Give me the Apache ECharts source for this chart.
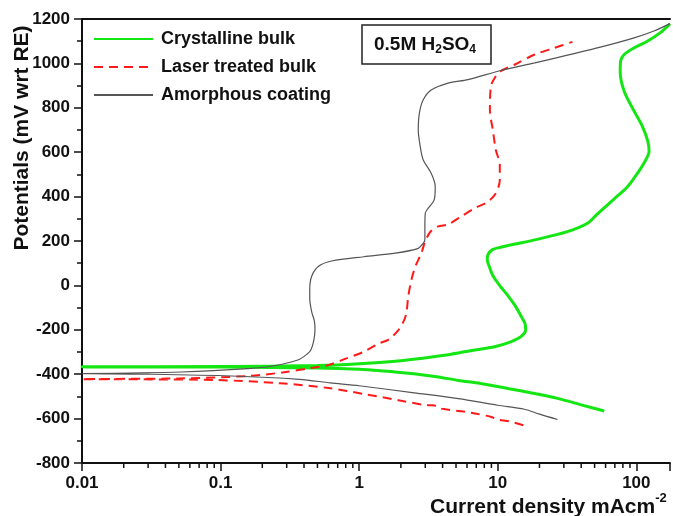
<!DOCTYPE html>
<html>
<head>
<meta charset="utf-8">
<script src="https://cdn.jsdelivr.net/npm/echarts@6/dist/echarts.min.js"></script>
<style>
  html, body { margin: 0; padding: 0; background: #fff; }
  #chart { width: 673px; height: 516px; }
</style>
</head>
<body>
<div id="chart"></div>
<script>
// current density (mA/cm2), potential (mV)
var crystCathodic = [[58.7,-566],[40,-538],[27,-509],[18,-486],[11.8,-464],[7.5,-442],[5.2,-428],[3.5,-410],[2.26,-396],[1.5,-386],[1.0,-378],[0.5,-372],[0.1,-368],[0.01,-367]];
var crystAnodic = [[0.01,-366],[0.1,-365],[0.5,-361],[1,-353],[2,-339],[4.4,-312],[6.5,-293],[9.5,-276],[12.4,-254],[14.7,-231],[15.9,-200],[15.7,-171],[14.5,-130],[13.3,-90],[11.8,-45],[10.5,-6],[9.3,40],[8.7,84],[8.4,115],[8.5,138],[9.1,160],[10.5,172],[13,185],[18.5,205],[31.8,242],[44.4,280],[52,320],[69.3,390],[85,440],[96.4,484],[112,545],[123.6,604],[121,650],[110,720],[96.4,785],[81.7,875],[76.5,960],[77,1010],[81.7,1040],[96.4,1070],[120,1100],[150,1140],[175,1178]];

var laserCathodic = [[15.3,-630],[12,-612],[10,-604],[8.9,-592],[7,-578],[5.8,-569],[5.2,-566],[4.2,-558],[3.8,-553],[3.6,-543],[3.3,-540],[2.9,-538],[1.92,-517],[1.1,-490],[0.6,-462],[0.27,-441],[0.09,-426],[0.01,-422]];
var laserAnodic = [[0.01,-422],[0.05,-419],[0.16,-408],[0.28,-392],[0.45,-372],[0.6,-359],[0.8,-330],[1.08,-299],[1.38,-262],[1.63,-244],[1.92,-201],[2.1,-160],[2.19,-126],[2.26,-51],[2.38,24],[2.54,84],[2.81,145],[3.0,200],[3.3,245],[3.72,266],[4.38,275],[5.43,310],[6.85,348],[8.49,377],[9.69,415],[10.35,475],[10.35,543],[9.69,610],[9.22,700],[8.78,790],[8.92,896],[9.53,935],[10.5,965],[13.3,995],[18.5,1040],[25.7,1070],[34.6,1097]];

var amorCathodic = [[27,-604],[20,-580],[15.6,-558],[10,-540],[5.2,-510],[2.5,-484],[1.0,-452],[0.62,-439],[0.37,-423],[0.12,-408],[0.03,-400],[0.01,-397]];
var amorAnodic = [[0.01,-396],[0.052,-390],[0.158,-375],[0.243,-362],[0.361,-336],[0.42,-310],[0.448,-291],[0.47,-250],[0.48,-200],[0.475,-160],[0.455,-120],[0.44,-60],[0.44,-18],[0.455,42],[0.512,87],[0.634,110],[1.08,129],[1.82,145],[2.67,167],[2.9,190],[2.98,205],[2.98,265],[3.0,325],[3.15,348],[3.48,385],[3.54,445],[3.31,505],[2.9,565],[2.76,625],[2.67,700],[2.72,776],[2.9,836],[3.31,880],[4.38,911],[6.1,927],[10.5,968],[18.5,1002],[31.8,1037],[55,1073],[96.4,1115],[134,1146],[175,1179]];

var seriesNames = ['Crystalline bulk', 'Laser treated bulk', 'Amorphous coating'];
var xTickLabels = ['0.01', '0.1', '1', '10', '100'];
var xMin = 0.01, xMax = 175;
var yMin = -800, yMax = 1200, yStep = 200;

var FONT = 'Liberation Sans, Arial, sans-serif';

// log minor ticks 2..9 per decade
var minorX = [];
[0.01, 0.1, 1, 10].forEach(function (d) {
  for (var k = 2; k <= 9; k++) minorX.push([+(d * k).toPrecision(3)]);
});

var chart = echarts.init(document.getElementById('chart'));

chart.setOption({
  animation: false,
  grid: { left: 82, right: 0, top: 19, bottom: 53 },
  legend: {
    data: seriesNames,
    orient: 'vertical',
    left: 93,
    top: 30,
    padding: 0,
    itemWidth: 59,
    itemHeight: 14,
    itemGap: 10,
    itemStyle: { opacity: 0 },
    textStyle: { fontFamily: FONT, fontWeight: 'bold', fontSize: 18, lineHeight: 18, color: '#111', padding: [0, 0, 0, 3] }
  },
  title: {
    text: '{a|0.5M H}{s|2}{a|SO}{s|4}',
    left: 362,
    top: 27,
    borderColor: '#222',
    borderWidth: 1.5,
    padding: [8, 15, 8, 12],
    textStyle: {
      rich: {
        a: { fontFamily: FONT, fontWeight: 'bold', fontSize: 19, lineHeight: 21, verticalAlign: 'top', color: '#111' },
        s: { fontFamily: FONT, fontWeight: 'bold', fontSize: 12, lineHeight: 14, padding: [11, 0, 0, 0], verticalAlign: 'bottom', color: '#111' }
      }
    }
  },
  graphic: [
    {
      type: 'text',
      x: 22, y: 138,
      rotation: Math.PI / 2,
      style: {
        text: 'Potentials (mV wrt RE)',
        font: 'bold 21px ' + FONT,
        fill: '#111',
        align: 'center',
        verticalAlign: 'middle'
      }
    },
    {
      type: 'text',
      x: 430, y: 492,
      style: {
        text: '{a|Current density mAcm}{b|-2}',
        fill: '#111',
        rich: {
          a: { fontFamily: FONT, fontWeight: 'bold', fontSize: 21, lineHeight: 26, verticalAlign: 'bottom' },
          b: { fontFamily: FONT, fontWeight: 'bold', fontSize: 13, lineHeight: 14, verticalAlign: 'top' }
        }
      }
    }
  ],
  xAxis: [
    {
      type: 'log',
      logBase: 10,
      min: xMin,
      max: xMax,
      position: 'bottom',
      axisLine: { onZero: false, lineStyle: { color: '#111', width: 2 } },
      axisTick: { length: 8, lineStyle: { color: '#111', width: 1.5 } },
      splitLine: { show: false },
      axisLabel: {
        margin: 12,
        fontFamily: FONT, fontWeight: 'bold', fontSize: 17, color: '#111',
        formatter: function (v) {
          var s = String(+(+v).toPrecision(3));
          return xTickLabels.indexOf(s) >= 0 ? s : '';
        }
      }
    },
    {
      type: 'log',
      logBase: 10,
      min: xMin,
      max: xMax,
      position: 'top',
      axisLine: { onZero: false, lineStyle: { color: '#111', width: 2 } },
      axisTick: { show: false },
      axisLabel: { show: false },
      splitLine: { show: false }
    }
  ],
  yAxis: {
    type: 'value',
    min: yMin,
    max: yMax,
    interval: yStep,
    axisLine: { show: true, onZero: false, lineStyle: { color: '#111', width: 2 } },
    axisTick: { show: true, length: 8, lineStyle: { color: '#111', width: 1.5 } },
    minorTick: { show: true, splitNumber: 2, length: 5, lineStyle: { color: '#111', width: 1.5 } },
    splitLine: { show: false },
    axisLabel: {
      margin: 12, fontFamily: FONT, fontWeight: 'bold', fontSize: 17, color: '#111',
      formatter: function (v) { return String(v); }
    }
  },
  series: [
    {
      name: seriesNames[0],
      type: 'line',
      symbol: 'none',
      smooth: 0.3,
      data: crystCathodic.concat(crystAnodic),
      lineStyle: { color: '#14e614', width: 3 },
      itemStyle: { color: '#14e614' },
      z: 3
    },
    {
      name: seriesNames[1],
      type: 'line',
      symbol: 'none',
      smooth: 0.3,
      data: laserCathodic.concat(laserAnodic),
      lineStyle: { color: '#ff1a1a', width: 2, type: [9, 6] },
      itemStyle: { color: '#ff1a1a' },
      z: 4
    },
    {
      name: seriesNames[2],
      type: 'line',
      symbol: 'none',
      smooth: 0.3,
      data: amorCathodic.concat(amorAnodic),
      lineStyle: { color: '#555', width: 1.2 },
      itemStyle: { color: '#555' },
      z: 5
    },
    {
      type: 'custom',
      silent: true,
      clip: false,
      data: minorX,
      renderItem: function (params, api) {
        var p = api.coord([api.value(0), yMin]);
        return {
          type: 'line',
          shape: { x1: p[0], y1: p[1], x2: p[0], y2: p[1] + 5 },
          style: { stroke: '#111', lineWidth: 1.5 }
        };
      },
      encode: { x: 0 }
    }
  ]
});
</script>
</body>
</html>
